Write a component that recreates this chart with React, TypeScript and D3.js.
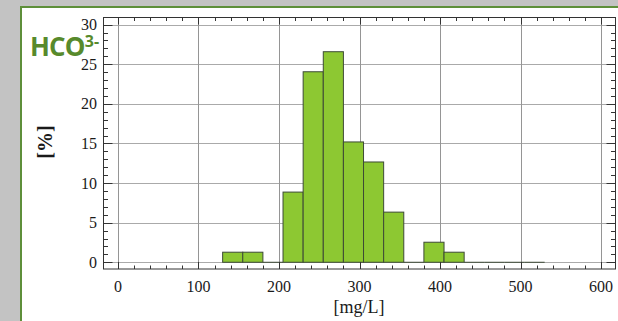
import React, { useEffect, useRef } from 'react';
import * as d3 from 'd3';

// HCO3- concentration histogram, bins of 25 mg/L
const binStarts = [130, 155, 180, 205, 230, 255, 280, 305, 330, 355, 380, 405, 430, 455, 480, 505];
const percents = [1.27, 1.27, 0, 8.86, 24.05, 26.58, 15.19, 12.66, 6.33, 0, 2.53, 1.27, 0, 0, 0, 0];
const binWidth = 25;

const xTicks = [0, 100, 200, 300, 400, 500, 600];
const yTicks = [0, 5, 10, 15, 20, 25, 30];

const W = 618;
const H = 321;

export default function App() {
  const svgRef = useRef<SVGSVGElement>(null);

  useEffect(() => {
    if (!svgRef.current) return;
    const svg = d3.select(svgRef.current);
    svg.selectAll('*').remove();

    const frame = { left: 103.5, right: 615.5, top: 17.5, bottom: 269 };

    // Scales
    const x = d3.scaleLinear().domain([-18, 618]).range([frame.left, frame.right]);
    const y = d3.scaleLinear().domain([-0.85, 30.9]).range([frame.bottom, frame.top]);

    // background + panel
    svg.append('rect').attr('width', W).attr('height', H).attr('fill', '#c3c3c3');
    svg
      .append('rect')
      .attr('x', 21)
      .attr('y', 7)
      .attr('width', W)
      .attr('height', H)
      .attr('fill', '#fff')
      .attr('stroke', '#5e8f3a')
      .attr('stroke-width', 2);

    const g = svg.append('g');

    // Grid
    g.append('g')
      .selectAll('line')
      .data(yTicks)
      .join('line')
      .attr('x1', frame.left)
      .attr('x2', frame.right)
      .attr('y1', d => Math.round(y(d)) + 0.5)
      .attr('y2', d => Math.round(y(d)) + 0.5)
      .attr('stroke', '#aaa')
      .attr('stroke-width', 1.2);

    g.append('g')
      .selectAll('line')
      .data(xTicks)
      .join('line')
      .attr('x1', d => Math.round(x(d)) + 0.5)
      .attr('x2', d => Math.round(x(d)) + 0.5)
      .attr('y1', frame.top)
      .attr('y2', frame.bottom)
      .attr('stroke', '#959595')
      .attr('stroke-width', 1);

    // Bars
    const bins = binStarts.map((b, i) => ({ x0: b, x1: b + binWidth, v: percents[i] }));
    g.append('g')
      .selectAll('rect')
      .data(bins.filter(d => d.v > 0))
      .join('rect')
      .attr('x', d => x(d.x0))
      .attr('y', d => y(d.v))
      .attr('width', d => x(d.x1) - x(d.x0))
      .attr('height', d => y(0) - y(d.v))
      .attr('fill', '#8dc832')
      .attr('stroke', '#3d4a36')
      .attr('stroke-width', 1);

    g.append('g')
      .selectAll('line')
      .data(bins.filter(d => d.v === 0))
      .join('line')
      .attr('x1', d => x(d.x0))
      .attr('x2', d => x(d.x1))
      .attr('y1', y(0))
      .attr('y2', y(0))
      .attr('stroke', '#3d4a36')
      .attr('stroke-width', 1);

    // Frame
    g.append('rect')
      .attr('x', frame.left)
      .attr('y', frame.top)
      .attr('width', frame.right - frame.left)
      .attr('height', frame.bottom - frame.top)
      .attr('fill', 'none')
      .attr('stroke', '#333')
      .attr('stroke-width', 1);

    // Inward ticks on all four sides
    const tickColor = '#333';
    const yMinor = d3.range(0, 31, 1);
    const xMinor = d3.range(0, 601, 20);

    const lv = g.append('g');
    lv.selectAll('line.l')
      .data(yMinor)
      .join('line')
      .attr('class', 'l')
      .attr('x1', frame.left)
      .attr('x2', d => frame.left + (d % 5 === 0 ? 9 : 4.5))
      .attr('y1', d => Math.round(y(d)) + 0.5)
      .attr('y2', d => Math.round(y(d)) + 0.5)
      .attr('stroke', tickColor);
    lv.selectAll('line.r')
      .data(yMinor)
      .join('line')
      .attr('class', 'r')
      .attr('x1', frame.right)
      .attr('x2', d => frame.right - (d % 5 === 0 ? 9 : 4.5))
      .attr('y1', d => Math.round(y(d)) + 0.5)
      .attr('y2', d => Math.round(y(d)) + 0.5)
      .attr('stroke', tickColor);
    lv.selectAll('line.b')
      .data(xMinor)
      .join('line')
      .attr('class', 'b')
      .attr('x1', d => Math.round(x(d)) + 0.5)
      .attr('x2', d => Math.round(x(d)) + 0.5)
      .attr('y1', frame.bottom)
      .attr('y2', d => frame.bottom - (d % 100 === 0 ? 7 : 3.5))
      .attr('stroke', tickColor);
    lv.selectAll('line.t')
      .data(xMinor)
      .join('line')
      .attr('class', 't')
      .attr('x1', d => Math.round(x(d)) + 0.5)
      .attr('x2', d => Math.round(x(d)) + 0.5)
      .attr('y1', frame.top)
      .attr('y2', d => frame.top + (d % 100 === 0 ? 7 : 3.5))
      .attr('stroke', tickColor);

    // Tick labels
    const serif = '"Times New Roman", "Liberation Serif", Tinos, serif';
    g.append('g')
      .selectAll('text')
      .data(yTicks)
      .join('text')
      .attr('x', 97)
      .attr('y', d => y(d))
      .attr('dy', '0.35em')
      .attr('text-anchor', 'end')
      .style('font-family', serif)
      .attr('font-size', 16)
      .attr('fill', '#1a1a1a')
      .text(d => d);

    g.append('g')
      .selectAll('text')
      .data(xTicks)
      .join('text')
      .attr('x', d => x(d))
      .attr('y', 292)
      .attr('text-anchor', 'middle')
      .style('font-family', serif)
      .attr('font-size', 16)
      .attr('fill', '#1a1a1a')
      .text(d => d);

    // Axis titles
    g.append('text')
      .attr('x', 359)
      .attr('y', 313)
      .attr('text-anchor', 'middle')
      .style('font-family', serif)
      .attr('font-size', 18)
      .attr('fill', '#1a1a1a')
      .text('[mg/L]');

    g.append('text')
      .attr('transform', 'translate(52,142) rotate(-90)')
      .attr('text-anchor', 'middle')
      .style('font-family', serif)
      .attr('font-weight', 'bold')
      .attr('font-size', 20)
      .attr('fill', '#1a1a1a')
      .text('[%]');

    // Title
    const title = g
      .append('text')
      .attr('x', 30)
      .attr('y', 56)
      .style('font-family', '"Open Sans", "Noto Sans", sans-serif')
      .attr('font-weight', 'bold')
      .attr('font-size', 26)
      .attr('letter-spacing', -0.8)
      .attr('fill', '#578a2c');
    title.append('tspan').text('HCO');
    title.append('tspan').attr('font-size', 16).attr('dy', -9).attr('letter-spacing', 0).text('3-');
  }, []);

  return (
    <svg
      ref={svgRef}
      width={W}
      height={H}
      style={{ position: 'absolute', left: 0, top: 0 }}
    />
  );
}
